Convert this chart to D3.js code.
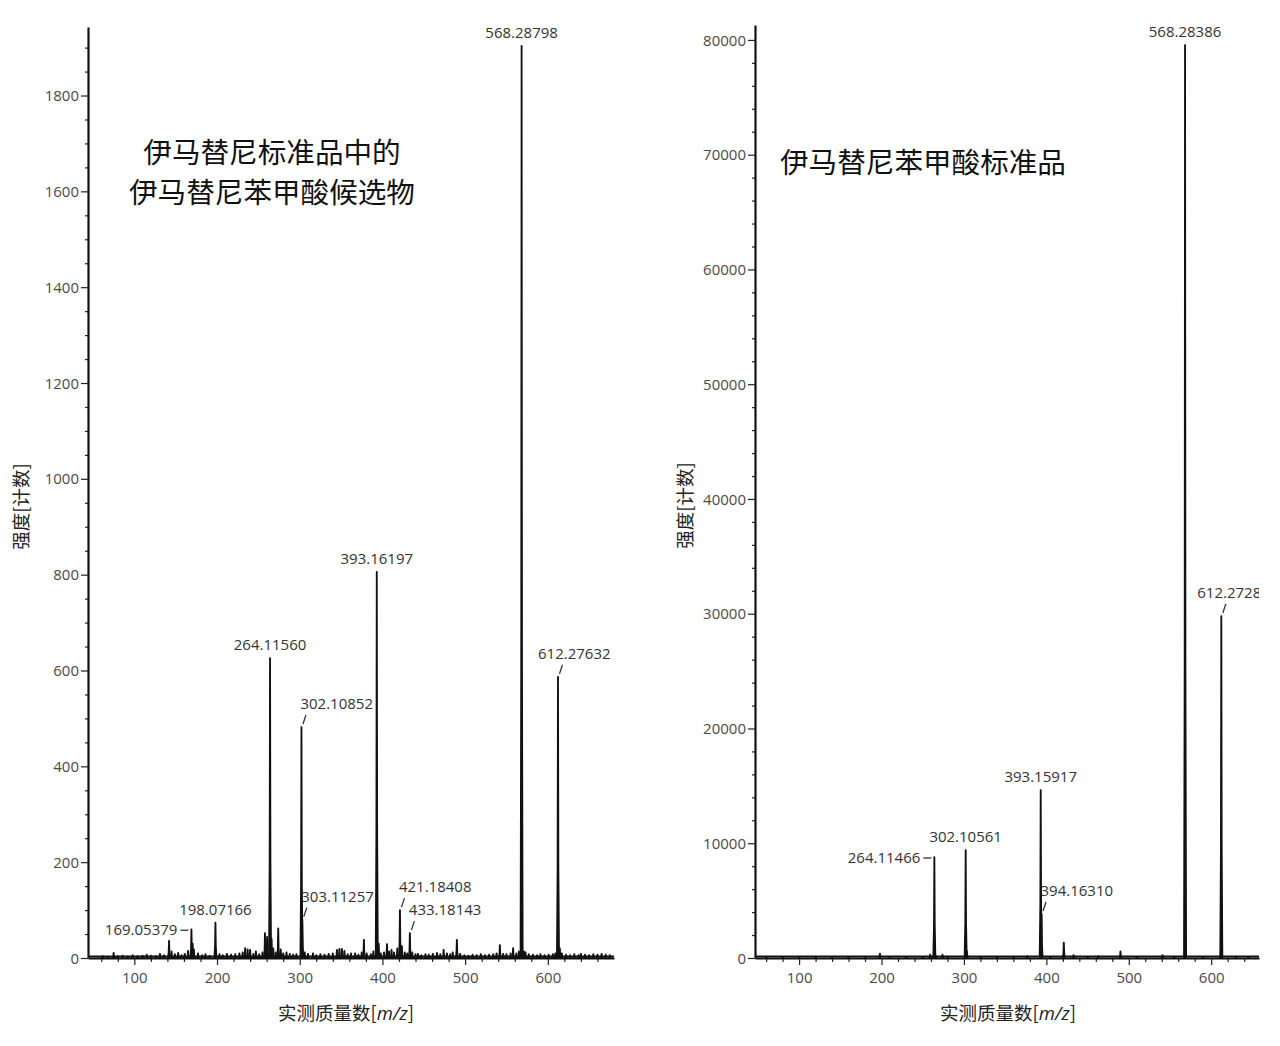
<!DOCTYPE html>
<html>
<head>
<meta charset="utf-8">
<script src="https://cdn.jsdelivr.net/npm/d3@7"></script>
<style>
  html, body { margin: 0; padding: 0; background: #fff; }
  svg { display: block; }
  .tick text { font-family: "Open Sans", "Noto Sans", sans-serif; font-size: 15px; fill: #4a4a4a; }
  .plabel { font-family: "Open Sans", "Noto Sans", sans-serif; font-size: 15px; fill: #333; }
  .title { font-family: "Noto Sans CJK SC", sans-serif; font-size: 28.6px; fill: #111; }
  .atitle { font-family: "Noto Sans CJK SC", sans-serif; font-size: 18.5px; fill: #222; }
</style>
</head>
<body>
<svg id="chart" width="1280" height="1046"></svg>
<script>
// ---------------- DATA ----------------
// Left panel: 伊马替尼标准品中的伊马替尼苯甲酸候选物  [m/z, intensity counts]
const leftPeaks = [
  [62,4],[68,3],[75,11],[80,4],[86,5],[92,3],[98,6],[104,4],[110,5],[115,7],[120,5],[126,4],
  [131,9],[136,6],[142,36],[145,14],[149,8],[153,11],[157,6],[161,9],[165,15],[169.05379,60],
  [170.5,30],[172,18],[177,10],[182,6],[186,8],[191,5],[198.07166,74],[203,8],[207,6],[212,9],
  [217,7],[222,8],[227,10],[231,12],[234,21],[237,18],[240,17],[244,9],[247,14],[251,8],[255,12],
  [258,52],[260.6,44],[264.1156,626],[266,40],[268,20],[271,12],[274,62],[277,18],[280,10],
  [284,12],[288,9],[292,7],[296,8],[302.10852,482],[303.11257,80],[306,12],[310,9],[316,10],
  [320,6],[325,8],[330,7],[335,9],[340,10],[345,17],[348,19],[351,19],[354,15],[358,8],[362,10],
  [367,10],[371,7],[375,12],[377.6,38],[381,10],[386,8],[389,14],[393.16197,806],[395.5,30],
  [398,10],[402,12],[405.5,29],[408,14],[411,17],[414,12],[418,20],[421.18408,100],[423.5,25],
  [427,12],[430,10],[433.18143,52],[436,12],[440,8],[443,9],[447,6],[452,8],[456,7],[461,9],
  [466,11],[470,8],[474,17],[478,10],[482,8],[485,12],[490,38],[494,9],[499,6],[504,5],[509,7],
  [514,6],[519,8],[524,6],[529,7],[534,8],[538,10],[542,27],[546,9],[550,8],[555,10],[558,21],
  [562,10],[565,14],[568.28798,1904],[571,14],[573,12],[577,8],[582,7],[587,6],[591,8],[596,6],
  [601,7],[606,8],[609,10],[612.27632,587],[614.5,20],[617,10],[622,7],[627,6],[632,8],[637,6],
  [640,9],[645,7],[650,6],[655,8],[660,7],[665,9],[670,7],[675,6]
];
const leftLabels = [
  {mz:568.28798, text:"568.28798", kind:"above"},
  {mz:393.16197, text:"393.16197", kind:"above"},
  {mz:264.1156,  text:"264.11560", kind:"above"},
  {mz:198.07166, text:"198.07166", kind:"above"},
  {mz:169.05379, text:"169.05379", kind:"dash"},
  {mz:302.10852, text:"302.10852", kind:"slash"},
  {mz:303.11257, text:"303.11257", kind:"slash"},
  {mz:421.18408, text:"421.18408", kind:"slash"},
  {mz:433.18143, text:"433.18143", kind:"slash"},
  {mz:612.27632, text:"612.27632", kind:"slash", shift:-20}
];
// Right panel: 伊马替尼苯甲酸标准品
const rightPeaks = [
  [60,80],[80,100],[100,60],[120,80],[140,60],[160,70],[180,90],[198.07,380],[210,80],[230,70],
  [250,100],[259,300],[264.11466,8800],[266,200],[274,290],[280,120],[302.10561,9410],[303.6,600],
  [320,80],[340,90],[360,70],[377,170],[393.15917,14640],[394.1631,3830],[405,100],[421.18,1340],
  [433,260],[450,80],[463,180],[489.9,580],[510,80],[541,260],[555,120],[568.28386,79560],
  [590,100],[612.2728,29800],[630,90],[645,80]
];
const rightLabels = [
  {mz:568.28386, text:"568.28386", kind:"above"},
  {mz:393.15917, text:"393.15917", kind:"above"},
  {mz:302.10561, text:"302.10561", kind:"above"},
  {mz:264.11466, text:"264.11466", kind:"dash"},
  {mz:394.1631,  text:"394.16310", kind:"slash"},
  {mz:612.2728,  text:"612.27283", kind:"slash", shift:-24}
];
const leftYMajor = [0,200,400,600,800,1000,1200,1400,1600,1800];
const rightYMajor = [0,10000,20000,30000,40000,50000,60000,70000,80000];
const xMajor = [100,200,300,400,500,600];
const titleLeft = ["伊马替尼标准品中的", "伊马替尼苯甲酸候选物"];
const titleRight = ["伊马替尼苯甲酸标准品"];
const yTitle = "强度[计数]";
const xTitleMain = "实测质量数[";
const xTitleUnit = "m/z";

// ---------------- DRAW ----------------
const svg = d3.select("#chart");

function panel(cfg) {
  const x = d3.scaleLinear().domain(cfg.xDomain).range([cfg.x0, cfg.x1]);
  const y = d3.scaleLinear().domain(cfg.yDomain).range([cfg.yBase, cfg.yTop]);
  const g = svg.append("g");

  const clipId = "clip" + cfg.id;
  svg.append("clipPath").attr("id", clipId)
    .append("rect").attr("x", cfg.x0 - 200).attr("y", 0)
    .attr("width", cfg.x1 - cfg.x0 + 200).attr("height", cfg.yBase + 2);

  // minor ticks
  const yMinor = d3.range(0, cfg.yDomain[1], cfg.yMinorStep).filter(v => !cfg.yMajor.includes(v));
  g.append("g").attr("transform", `translate(${cfg.x0},0)`)
    .call(d3.axisLeft(y).tickValues(yMinor).tickSize(3).tickSizeOuter(0).tickFormat(""))
    .call(a => a.select(".domain").remove())
    .selectAll("line").attr("stroke", "#222").attr("stroke-width", 1.2);
  const xMinor = d3.range(60, cfg.xDomain[1], 20).filter(v => !xMajor.includes(v));
  g.append("g").attr("transform", `translate(0,${cfg.yBase})`)
    .call(d3.axisBottom(x).tickValues(xMinor).tickSize(4).tickSizeOuter(0).tickFormat(""))
    .call(a => a.select(".domain").remove())
    .selectAll("line").attr("stroke", "#222").attr("stroke-width", 1.2);

  // major axes
  const ya = g.append("g").attr("transform", `translate(${cfg.x0},0)`)
    .call(d3.axisLeft(y).tickValues(cfg.yMajor).tickSize(7).tickPadding(2).tickSizeOuter(0).tickFormat(d3.format("d")));
  ya.select(".domain").attr("stroke", "#111").attr("stroke-width", 2.2);
  ya.selectAll(".tick line").attr("stroke", "#222").attr("stroke-width", 1.2);
  ya.selectAll(".tick text").attr("dy", "0.34em");

  const xa = g.append("g").attr("transform", `translate(0,${cfg.yBase})`)
    .call(d3.axisBottom(x).tickValues(xMajor).tickSize(7).tickPadding(7).tickSizeOuter(0));
  xa.select(".domain").attr("stroke", "#111").attr("stroke-width", 2.2);
  xa.selectAll(".tick line").attr("stroke", "#222").attr("stroke-width", 1.2);

  // spectrum: each peak drawn as a narrow profile
  const line = d3.line().x(d => x(d[0])).y(d => y(d[1]));
  const prof = (mz, I) => [[mz - 1.4, 0], [mz - 0.6, I * 0.32], [mz - 0.15, I], [mz + 0.15, I], [mz + 0.6, I * 0.32], [mz + 1.4, 0]];
  const spec = g.append("g").attr("clip-path", `url(#${clipId})`);
  spec.append("line")
    .attr("x1", cfg.x0).attr("x2", cfg.x1)
    .attr("y1", y(0) - 1.5).attr("y2", y(0) - 1.5)
    .attr("stroke", "#111").attr("stroke-width", 1.8);
  spec.selectAll("path.pk").data(cfg.peaks).join("path").attr("class", "pk")
    .attr("d", d => line(prof(d[0], d[1])))
    .attr("fill", "#111").attr("stroke", "#111").attr("stroke-width", 1.6)
    .attr("stroke-linejoin", "round");

  // peak labels
  const lab = g.append("g").attr("clip-path", `url(#${clipId})`);
  const peakI = mz => cfg.peaks.find(p => Math.abs(p[0] - mz) < 0.01)[1];
  cfg.labels.forEach(L => {
    const px = x(L.mz), top = y(peakI(L.mz));
    if (L.kind === "above") {
      lab.append("text").attr("class", "plabel").attr("x", px).attr("y", top - 8)
        .attr("text-anchor", "middle").text(L.text);
    } else if (L.kind === "slash") {
      lab.append("line").attr("x1", px + 1.5).attr("y1", top - 3).attr("x2", px + 4.5).attr("y2", top - 12)
        .attr("stroke", "#333").attr("stroke-width", 1.3);
      lab.append("text").attr("class", "plabel").attr("x", px + (L.shift || -1)).attr("y", top - 18)
        .attr("text-anchor", "start").text(L.text);
    } else if (L.kind === "dash") {
      lab.append("line").attr("x1", px - 11).attr("x2", px - 3).attr("y1", top + 1).attr("y2", top + 1)
        .attr("stroke", "#333").attr("stroke-width", 1.3);
      lab.append("text").attr("class", "plabel").attr("x", px - 14).attr("y", top + 6)
        .attr("text-anchor", "end").text(L.text);
    }
  });

  // titles
  cfg.title.forEach((t, i) => {
    svg.append("text").attr("class", "title").attr("x", cfg.titleX).attr("y", cfg.titleY + i * 40)
      .attr("text-anchor", "middle").text(t);
  });
  svg.append("text").attr("class", "atitle")
    .attr("transform", `translate(${cfg.yTitleX},${(cfg.yBase + cfg.yTop) / 2 + 14}) rotate(-90)`)
    .attr("text-anchor", "middle").text(yTitle);
  const xt = svg.append("text").attr("class", "atitle").attr("x", cfg.xTitleX).attr("y", 1020)
    .attr("text-anchor", "middle");
  xt.append("tspan").text(xTitleMain);
  xt.append("tspan").attr("font-style", "italic").attr("font-family", "Open Sans, sans-serif").text(xTitleUnit);
  xt.append("tspan").text("]");
}

panel({
  id: "L", peaks: leftPeaks, labels: leftLabels,
  xDomain: [44, 680], yDomain: [0, 1943], yMajor: leftYMajor, yMinorStep: 50,
  x0: 88, x1: 614, yBase: 958, yTop: 27,
  title: titleLeft, titleX: 272, titleY: 163, yTitleX: 28, xTitleX: 346
});
panel({
  id: "R", peaks: rightPeaks, labels: rightLabels,
  xDomain: [46.5, 658], yDomain: [0, 81300], yMajor: rightYMajor, yMinorStep: 2000,
  x0: 755, x1: 1259, yBase: 958, yTop: 25,
  title: titleRight, titleX: 923, titleY: 173, yTitleX: 692, xTitleX: 1008
});
</script>
</body>
</html>
